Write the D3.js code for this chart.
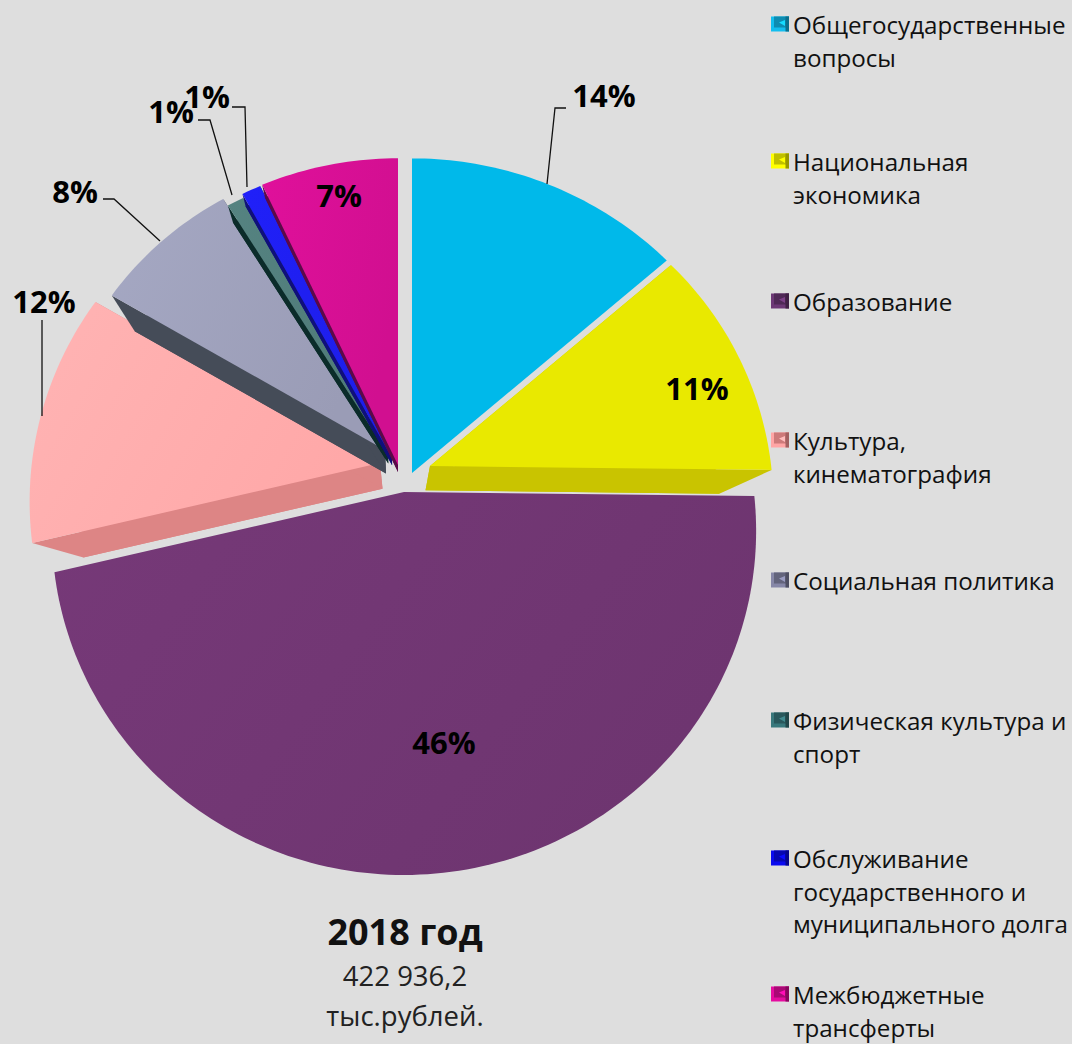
<!DOCTYPE html>
<html>
<head>
<meta charset="utf-8">
<style>
html,body{margin:0;padding:0;background:#dedede;}
svg{display:block;font-family:"Open Sans",sans-serif;}
</style>
</head>
<body>
<svg width="1072" height="1044"></svg>
<script src="https://d3js.org/d3.v7.min.js"></script>
<script>
// budget shares, 2018
var categories = [["Общегосударственные","вопросы"],["Национальная","экономика"],["Образование"],["Культура,","кинематография"],["Социальная политика"],["Физическая культура и","спорт"],["Обслуживание","государственного и","муниципального долга"],["Межбюджетные","трансферты"]];
var values = [13.7,11.49,46.11,12.1,7.7,0.9,1,7];
var topColors = ["#00b9ea","#e9e900","#6e3570","#ffa8a8","#9a9cb6","#4f7a78","#1e1ee8","#d10f90"];
var sideColors = ["#0090b8","#c9c400","#4d2450","#dd8585","#454c58","#0b2c2a","#10107a","#5a0a48"];
var markerColors = ["#0f9fc8","#d8d800","#5b2f63","#e88a8a","#70718c","#2f6468","#0808c8","#c00a85"];
var drawOrder = [0,3,4,5,6,7,1,2];

// how each slice is pulled out of the pie
var shiftX = [14,32,6,-18,-13,-10,-6,0];
var shiftY = [5,-2,24,-5,-18,-14,-10,-3];
var sliceScale = [1.036,0.98,1.005,1,0.96,0.95,0.98,1.01];
var sliceDepth = [0,24,0,25,22,9,7,7];
var sliceShrink = [1,0.86,1,0.86,0.92,0.97,0.98,0.98];

var labelPos = [[604,96],[697,389],[444,743],[44,302],[75,192],[171,112],[207,97],[339,196]];
var leaders = [
  [[566,108],[555,108],[547,184]],
  [[42,320],[42,416]],
  [[103,199],[114,199],[160,241]],
  [[198,120],[210,120],[232,195]],
  [[232,107],[245,107],[247,187]]
];
var legendY = [24,161,301,440,580,720,858,994];

var svg = d3.select("svg");
var cx = 398, cy = 468, R = 338, xStretch = 1.03, tilt = 0.113;

// pie sits on a tilted plane, so lower part comes closer
function project(a){
  var u = Math.sin(a), v = -Math.cos(a);
  var k = 1/(1 - tilt*v);
  return [u*R*xStretch*k, v*R*k];
}

var arcs = d3.pie().sort(null)(values);
var line = d3.line();

var defs = svg.append("defs");
topColors.forEach(function(c, i){
  var g = defs.append("linearGradient").attr("id","face"+i).attr("x1","0%").attr("y1","0%").attr("x2","100%").attr("y2","40%");
  g.append("stop").attr("offset","0%").attr("stop-color",i<2 ? c : d3.color(c).brighter(0.2));
  g.append("stop").attr("offset","100%").attr("stop-color",c);
});

function slicePoints(d, i, f, drop){
  var pts = [[cx+shiftX[i]*f, cy+shiftY[i]*f+drop]];
  var n = Math.max(2, Math.ceil((d.endAngle-d.startAngle)/0.02));
  d3.range(n+1).forEach(function(j){
    var q = project(d.startAngle + (d.endAngle-d.startAngle)*j/n);
    pts.push([pts[0][0]+q[0]*sliceScale[i]*f, pts[0][1]+q[1]*sliceScale[i]*f]);
  });
  return pts;
}

var pie = svg.append("g");
drawOrder.forEach(function(i){
  var d = arcs[i];
  var top = slicePoints(d,i,1,0);
  var g = pie.append("g");
  if(sliceDepth[i]>0){
    var low = slicePoints(d,i,sliceShrink[i],sliceDepth[i]);
    g.append("path").attr("d",line(low)+"Z").attr("fill",sideColors[i]);
    // radial walls
    [[0,1],[0,top.length-1]].forEach(function(e){
      g.append("path").attr("d",line([top[e[0]],top[e[1]],low[e[1]],low[e[0]]])+"Z").attr("fill",sideColors[i]);
    });
  }
  g.append("path").attr("d",line(top)+"Z").attr("fill","url(#face"+i+")");
});

// percent labels
svg.append("g").selectAll("text").data(values).join("text")
  .attr("x",function(d,i){ return labelPos[i][0]; })
  .attr("y",function(d,i){ return labelPos[i][1]+11; })
  .attr("text-anchor","middle")
  .attr("font-size",31).attr("font-weight",700).attr("fill","#000")
  .text(function(d){ return Math.round(d)+"%"; });

svg.append("g").selectAll("path").data(leaders).join("path")
  .attr("d",function(d){ return line(d); })
  .attr("fill","none").attr("stroke","#111").attr("stroke-width",1.3);

// legend, little bevelled squares
var legend = svg.append("g").selectAll("g").data(categories).join("g")
  .attr("transform",function(d,i){ return "translate(771,"+legendY[i]+")"; });
legend.append("rect").attr("y",-7.5).attr("width",18).attr("height",15)
  .attr("fill",function(d,i){ return d3.color(markerColors[i]).brighter(0.5); });
legend.append("path").attr("d","M3,-7.5H18V7.5L14.5,3.5H3Z")
  .attr("fill",function(d,i){ return d3.color(markerColors[i]).darker(0.35); });
legend.append("path").attr("d","M14.5,-7.5H18V7.5H14.5Z")
  .attr("fill",function(d,i){ return d3.color(markerColors[i]).darker(1); });
legend.append("path").attr("d","M8,-1.5L14,-4V2Z")
  .attr("fill",function(d,i){ return d3.color(markerColors[i]).brighter(0.9); });
legend.each(function(d){
  d3.select(this).selectAll("text").data(d).join("text")
    .attr("x",22).attr("y",function(t,j){ return 10+j*32.5; })
    .attr("font-size",24.2).attr("fill","#111").text(function(t){ return t; });
});

// caption
svg.append("text").attr("x",405).attr("y",945).attr("text-anchor","middle")
  .attr("font-size",36).attr("font-weight",700).attr("fill","#111").text("2018 год");
svg.append("text").attr("x",405).attr("y",986).attr("text-anchor","middle")
  .attr("font-size",27.5).attr("fill","#222").text("422 936,2");
svg.append("text").attr("x",405).attr("y",1026).attr("text-anchor","middle")
  .attr("font-size",27.5).attr("fill","#222").text("тыс.рублей.");
</script>
</body>
</html>
